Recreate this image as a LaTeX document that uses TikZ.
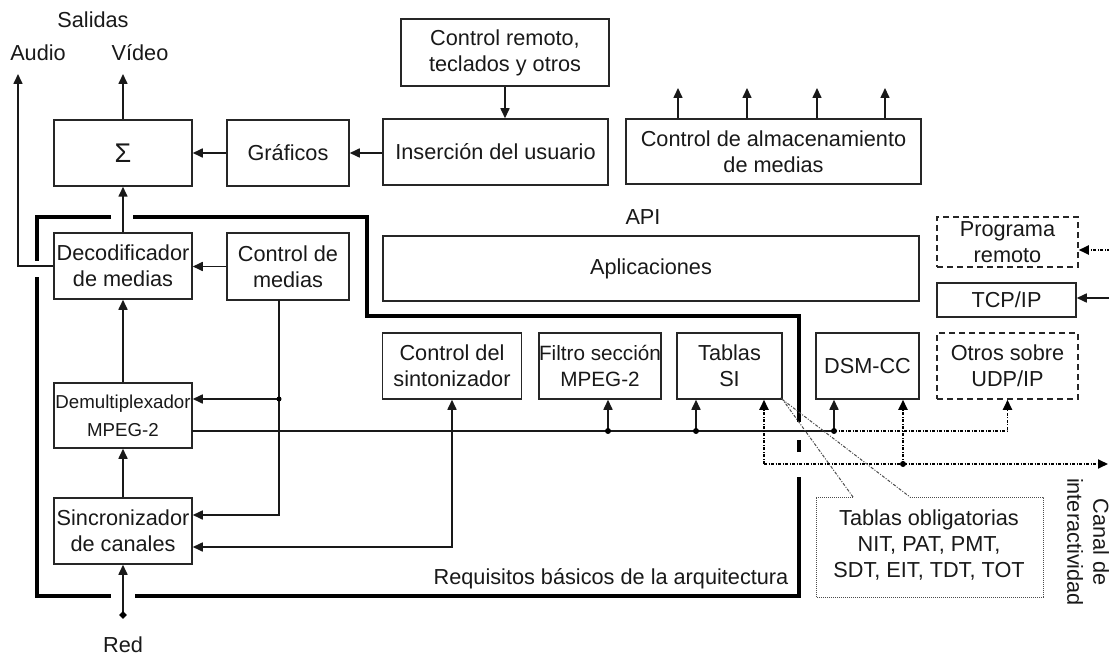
\documentclass[tikz,border=0pt]{standalone}
\usepackage{fontspec}
\setmainfont{Liberation Sans}
\usetikzlibrary{arrows.meta,calc,shapes.geometric}
\begin{document}
\begin{tikzpicture}[x=1pt,y=-1pt,
  every node/.style={font=\fontsize{21.7}{26}\selectfont, inner sep=0pt, text=black!90},
  box/.style={draw=black!85, line width=1.5pt, align=center, inner sep=0pt},
  dbox/.style={box, dash pattern=on 6pt off 4pt},
  ln/.style={draw=black!90, line width=1.6pt},
  arr/.style={ln, -{Triangle[length=10pt,width=9pt]}},
  dd/.style={draw=black, line width=1.8pt, dash pattern=on 3pt off 1.5pt on 1pt off 1.5pt},
  darr/.style={dd, -{Triangle[length=10pt,width=9pt]}},
  frame/.style={draw=black, line width=4pt},
  dotn/.style={circle, fill=black, inner sep=0pt, minimum size=6pt},
  callout/.style={draw=black!70, line width=1pt, dash pattern=on 1pt off 1pt},
  calloutline/.style={draw=black!70, line width=1pt, dash pattern=on 3pt off 1.5pt on 1pt off 1.5pt}
]
\useasboundingbox (0,0) rectangle (1109,658);
\fill[white] (0,0) rectangle (1109,658);

% top labels
\node (salidas) at (93,20) {Salidas};
\node (audio) at (38,53) {Audio};
\node (video) at (140,53) {Vídeo};

% top row boxes
\node[box, minimum width=138, minimum height=66] (sum) at (123,153) {\fontsize{27}{30}\selectfont Σ};
\node[box, minimum width=122, minimum height=66] (graf) at (288,153) {Gráficos};
\node[box, minimum width=225, minimum height=66] (ins) at (495.5,152) {Inserción del usuario};
\node[box, minimum width=208, minimum height=67] (crem) at (505,52.5) {Control remoto,\\teclados y otros};
\node[box, minimum width=295, minimum height=65] (alm) at (773.5,151.5) {Control de almacenamiento\\de medias};

% API / applications
\node (api) at (643,217) {API};
\node[box, minimum width=536, minimum height=65] (apl) at (651,268.5) {Aplicaciones};

% left column
\node[box, minimum width=138, minimum height=66] (dec) at (123,266) {Decodificador\\de medias};
\node[box, minimum width=122, minimum height=67] (cmed) at (288,266.5) {Control de\\medias};
\node[box, minimum width=138, minimum height=65, font=\fontsize{18.7}{28}\selectfont] (demux) at (123,415.5) {Demultiplexador\\MPEG-2};
\node[box, minimum width=138, minimum height=66] (sinc) at (123,531) {Sincronizador\\de canales};

% middle row
\node[box, minimum width=139, minimum height=66] (csint) at (452,366) {Control del\\sintonizador};
\node[box, minimum width=122, minimum height=66, font=\fontsize{20.7}{26}\selectfont] (filt) at (600,366) {Filtro sección\\MPEG-2};
\node[box, minimum width=105, minimum height=66] (tsi) at (729.5,366) {Tablas\\SI};
\node[box, minimum width=103, minimum height=66] (dsm) at (867.5,366) {DSM-CC};
\node[dbox, minimum width=141, minimum height=66] (otros) at (1007.5,366) {Otros sobre\\UDP/IP};
\node[box, minimum width=139, minimum height=34] (tcp) at (1006.5,300) {TCP/IP};
\node[dbox, minimum width=141, minimum height=50] (prog) at (1007.5,242) {Programa\\remoto};

% texts bottom
\node (red) at (123,645) {Red};
\node (req) at (611,579) {Requisitos básicos de la arquitectura};
\node[align=center] (tob) at (929,545) {Tablas obligatorias\\NIT, PAT, PMT,\\SDT, EIT, TDT, TOT};
\node[align=center, rotate=-90] (canal) at (1088,542) {Canal de\\interactividad};

% thick frame
\draw[frame] (111,217) -- (37,217) -- (37,261);
\draw[frame] (37,277) -- (37,596) -- (111,596);
\draw[frame] (135,596) -- (799,596) -- (799,477);
\draw[frame] (799,452) -- (799,440);
\draw[frame] (799,422) -- (799,316) -- (367,316) -- (367,217) -- (133,217);

% coordinates
\coordinate (vid) at (123,74);
\coordinate (aud) at (18,74);
\coordinate (audc) at (18,266);
\coordinate (cm1) at (279,300);
\coordinate (j1) at (279,399);
\coordinate (cm2) at (279,515);
\coordinate (st) at (452,547);
\coordinate (bus0) at (192,431);
\coordinate (bus1) at (608,431);
\coordinate (bus2) at (696,431);
\coordinate (bus3) at (834,431);
\coordinate (bus4) at (1007.5,431);
\coordinate (dd0) at (764,464);
\coordinate (dd1) at (903,464);
\coordinate (ddend) at (1108,464);
\coordinate (pr) at (1110,250);
\coordinate (tc) at (1110,298);
\coordinate (redc) at (123,615);
\coordinate (cA) at (853,497);
\coordinate (cB) at (910,497);

% top connectors
\draw[arr] (sum.north) -- (vid);
\draw[arr] (dec.west) -- (audc) -- (aud);
\draw[arr] (dec.north) -- (sum.south);
\draw[arr] (graf.west) -- (sum.east);
\draw[arr] (ins.west |- graf.east) -- (graf.east);
\draw[arr] (crem.south) -- (crem.south |- ins.north);
\foreach \xx in {678,747,817,885}{
  \coordinate (s\xx) at (\xx,88);
  \draw[arr] (alm.north -| s\xx) -- (s\xx);
}

% left column connectors
\draw[arr] (cmed.west) -- (cmed.west -| dec.east);
\draw[arr] (demux.north) -- (dec.south);
\draw[arr] (sinc.north) -- (demux.south);
\draw[arr] (redc) -- (sinc.south);
\node[diamond, fill=black, inner sep=0pt, minimum size=8pt] at (redc) {};
\draw[arr] (cm1) -- (cm2) -- (cm2 -| sinc.east);
\draw[arr] (j1) -- (j1 -| demux.east);
\node[dotn, minimum size=5pt] at (j1) {};
\draw[ln, {Triangle[length=10pt,width=9pt]}-{Triangle[length=10pt,width=9pt]}] (st -| sinc.east) -- (st) -- (st |- csint.south);

% bus
\draw[ln] (bus0) -- (bus3);
\draw[arr] (bus1) -- (bus1 |- filt.south);
\draw[arr] (bus2) -- (bus2 |- tsi.south);
\draw[arr] (bus3) -- (bus3 |- dsm.south);
\foreach \b in {bus1,bus2,bus3}{\node[dotn] at (\b) {};}
\draw[darr] (bus3) -- (bus4) -- (otros.south);

% interactive channel line
\draw[darr] (dd0) -- (dd0 |- tsi.south);
\draw[darr] (dd0) -- (ddend);
\draw[darr] (dd1) -- (dd1 |- dsm.south);
\node[dotn] at (dd1) {};

% right-side inputs
\draw[darr] (pr) -- (pr -| prog.east);
\draw[arr] (tc) -- (tc -| tcp.east);

% callout
\draw[calloutline] (cA) -- (tsi.south east) -- (cB);
\draw[callout] (cB) -- (1043,497) -- (1043,597) -- (816,597) -- (816,497) -- (cA);
\end{tikzpicture}
\end{document}
